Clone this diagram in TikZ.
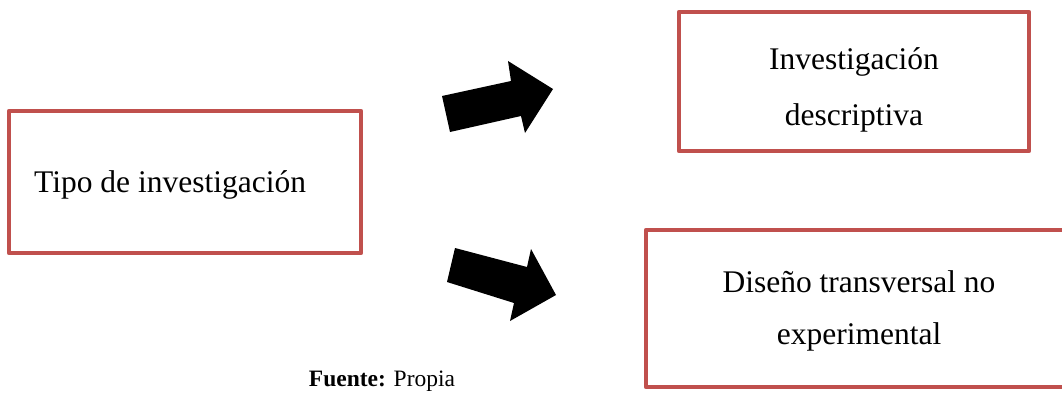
\documentclass[tikz,border=0pt]{standalone}
\usepackage{fontspec}
\setmainfont{Liberation Serif}
\definecolor{boxred}{HTML}{C0504D}
\begin{document}
\begin{tikzpicture}[x=1pt,y=-1pt,
  redbox/.style={draw=boxred,line width=4.5pt,line join=round},
  maintext/.style={inner sep=0pt,anchor=base,font=\fontsize{31.5}{38}\selectfont},
  blockarrow/.style={fill=black,draw=none}]
\useasboundingbox (0,0) rectangle (1062,396);
\clip (0,0) rectangle (1062,396);
% boxes
\draw[redbox] (9,111) rectangle (361,253) coordinate (b1);
\draw[redbox] (679,12) rectangle (1029,151) coordinate (b2);
\draw[redbox] (646,230) rectangle (1072,387) coordinate (b3);
% texts
\node[maintext,anchor=base west] (t1) at (34,192) {Tipo de investigación};
\node[maintext] (t2a) at (854,70) {Investigación};
\node[maintext] (t2b) at (854,125) {descriptiva};
\node[maintext] (t3a) at (859,292) {Diseño transversal no};
\node[maintext] (t3b) at (859,344) {experimental};
% arrows
\fill[blockarrow] (442,96) -- (511,81) -- (508,61) -- (553,89) -- (525,133) -- (521,116) -- (450,132) -- cycle;
\fill[blockarrow] (455,248) -- (527,267) -- (531,249) -- (556,295) -- (510,321) -- (514,303) -- (447,282) -- cycle;
% caption
\node[inner sep=0pt,anchor=base,font=\fontsize{23.5}{28}\selectfont] (src) at (382,386) {\textbf{Fuente:} Propia};
\end{tikzpicture}
\end{document}
